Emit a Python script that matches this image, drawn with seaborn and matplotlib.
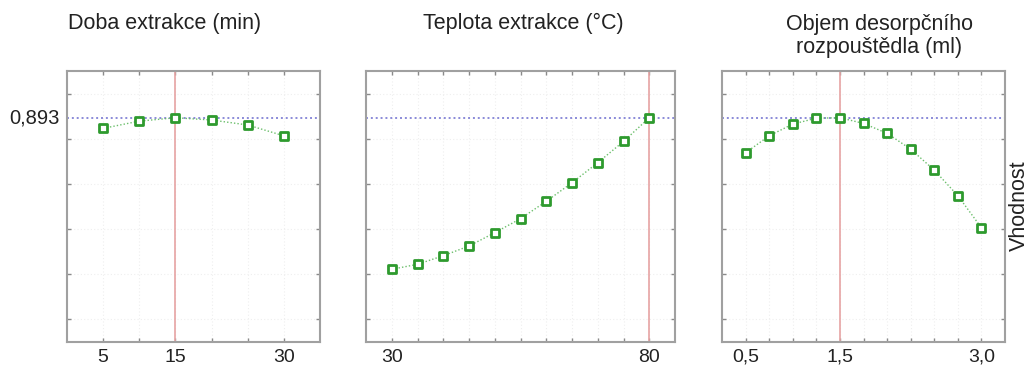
import matplotlib
matplotlib.use("Agg")
import matplotlib.pyplot as plt
import seaborn as sns
import pandas as pd

sns.set_style("white")
plt.rcParams['font.family'] = ['Liberation Sans', 'DejaVu Sans']

# Data
time_x = [5, 10, 15, 20, 25, 30]
time_y = [0.846, 0.878, 0.893, 0.883, 0.861, 0.813]

temp_x = [30, 35, 40, 45, 50, 55, 60, 65, 70, 75, 80]
temp_y = [0.222, 0.244, 0.282, 0.325, 0.384, 0.446, 0.523, 0.605, 0.694, 0.788, 0.893]

vol_x = [0.5, 0.75, 1.0, 1.25, 1.5, 1.75, 2.0, 2.25, 2.5, 2.75, 3.0]
vol_y = [0.738, 0.813, 0.865, 0.891, 0.893, 0.868, 0.824, 0.754, 0.661, 0.548, 0.406]

titles = ["Doba extrakce (min)", "Teplota extrakce (°C)", "Objem desorpčního\nrozpouštědla (ml)"]
optima = [15, 80, 1.5]
best_value = 0.893
best_label = "0,893"
xlims = [(0, 35), (25, 85), (0.25, 3.25)]
xlabel_ticks = [([5, 15, 30], ["5", "15", "30"]),
                ([30, 80], ["30", "80"]),
                ([0.5, 1.5, 3.0], ["0,5", "1,5", "3,0"])]
yticks = [0.0, 0.2, 0.4, 0.6, 0.8, 1.0]

fig = plt.figure(figsize=(10.28, 3.67), dpi=100)
W, H = 1028, 367
boxes = [(67, 320), (366, 675), (722, 1005)]
top, bottom = 71, 342
axes = []
for (l, r) in boxes:
    ax = fig.add_axes([l / W, 1 - bottom / H, (r - l) / W, (bottom - top) / H])
    axes.append(ax)

series = [(time_x, time_y), (temp_x, temp_y), (vol_x, vol_y)]
green = "#2e9a2e"
for i, ax in enumerate(axes):
    xs, ys = series[i]
    df = pd.DataFrame({"x": xs, "y": ys})
    ax.axvline(optima[i], color="#e6a3a3", linewidth=1.2, zorder=1)
    ax.axhline(best_value, color="#8a8ad8", linestyle=(0, (1, 1.5)), linewidth=1.4, zorder=1)
    sns.lineplot(data=df, x="x", y="y", ax=ax, color="#6cbf6c", linestyle=(0, (1, 1.5)),
                 linewidth=1.0, zorder=2)
    sns.scatterplot(data=df, x="x", y="y", ax=ax, marker="s", s=40, facecolor="white",
                    edgecolor=green, linewidth=2.0, zorder=3)
    ax.set_xlabel("")
    ax.set_ylabel("")
    ax.set_xlim(*xlims[i])
    ax.set_ylim(-0.1, 1.1)
    tpos, tlab = xlabel_ticks[i]
    labels = [tlab[tpos.index(v)] if v in tpos else "" for v in xs]
    ax.set_xticks(xs, labels=labels)
    ax.set_yticks(yticks, labels=[""] * len(yticks))
    for lab in ax.get_xticklabels():
        lab.set_fontsize(14)
        lab.set_color("#222222")
    ax.grid(True, color="#efefef", linestyle=(0, (1, 2)), linewidth=0.8)
    ax.set_axisbelow(True)
    ax.tick_params(axis="both", direction="in", length=3, width=1, color="#8a8a8a",
                   top=True, right=True, bottom=True, left=True, pad=5)
    for sp in ax.spines.values():
        sp.set_color("#a0a0a0")
        sp.set_linewidth(1.5)

# best value label on first panel
axes[0].text(-0.03, best_value, best_label, transform=axes[0].get_yaxis_transform(),
             ha="right", va="center", fontsize=14.5, color="#222222")

# titles
fig.text(165 / W, 1 - 23 / H, titles[0], ha="center", va="center", fontsize=15.5, color="#222222")
fig.text(523 / W, 1 - 23 / H, titles[1], ha="center", va="center", fontsize=15.5, color="#222222")
fig.text(879 / W, 1 - 36 / H, titles[2], ha="center", va="center", fontsize=15.5, color="#222222",
         linespacing=1.1)

fig.text(1009 / W, 1 - 206 / H, "Vhodnost", rotation=90, ha="left", va="center",
         fontsize=15.5, color="#222222")

fig.savefig("out.png", dpi=100)
